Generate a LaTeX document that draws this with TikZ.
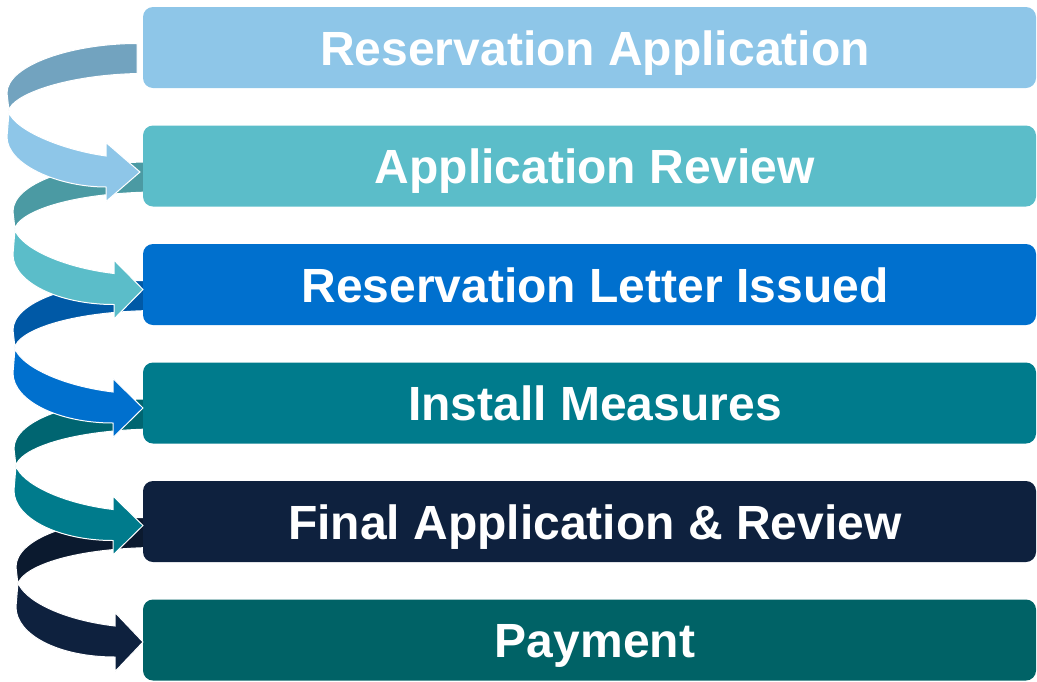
\documentclass[tikz,border=0pt]{standalone}
\usepackage{fontspec}
\setmainfont{Liberation Sans}
\definecolor{cA}{HTML}{8EC6E8}
\definecolor{cB}{HTML}{5BBDC9}
\definecolor{cC}{HTML}{0070CE}
\definecolor{cD}{HTML}{007B8C}
\definecolor{cE}{HTML}{0E213E}
\definecolor{cF}{HTML}{006266}
\definecolor{kA}{HTML}{72A3BF}
\definecolor{kB}{HTML}{4B9AA3}
\definecolor{kC}{HTML}{0059A6}
\definecolor{kD}{HTML}{006571}
\definecolor{kE}{HTML}{0B1A2F}
% back half of a ribbon arrow: #1 = y of upper band, #2 = left x, #3 = right x, #4 colour
\newcommand\ribbonback[4]{%
  \fill[#4, draw=white, line width=1]
    (#3, #1-8) .. controls (71, #1-8) and (#2, #1+14) .. (#2, #1+41.5)
    -- (#2+2, #1+59) .. controls (#2+4, #1+45) and (60, #1+24) .. (#3, #1+22) -- cycle;}
% front half with arrow head: #1 = y of upper band, #2 = left x, #3 colour, #4 head base x, #5 tip x
\newcommand\ribbonfront[5]{%
  \fill[#3, draw=white, line width=1]
    (#2+2, #1+59) .. controls (#2+8, #1+76) and (60, #1+96) .. (#4, #1+102.5)
    -- (#4, #1+89) -- (#5, #1+118.5) -- (#4, #1+148) -- (#4, #1+133.5)
    .. controls (58, #1+133.5) and (#2, #1+111) .. (#2, #1+83.5) -- cycle;}
\tikzset{
  stagebox/.style={rectangle, rounded corners=10pt, minimum width=893pt,
    minimum height=81pt, inner sep=0pt},
  stagetext/.style={anchor=base, text=white, inner sep=0pt,
    font=\fontsize{48}{52}\selectfont\bfseries}
}
\begin{document}
\begin{tikzpicture}[x=1pt,y=-1pt]
\useasboundingbox (0,0) rectangle (1037,681);
% back halves
\ribbonback{51.5}{7}{137}{kA}
\ribbonback{170}{13}{150}{kB}
\ribbonback{288.5}{13}{150}{kC}
\ribbonback{407}{14}{150}{kD}
\ribbonback{525.5}{16}{150}{kE}
% boxes
\node[stagebox, fill=cA] (b1) at (589.5,47.5) {};
\node[stagebox, fill=cB] (b2) at (589.5,166) {};
\node[stagebox, fill=cC] (b3) at (589.5,284.5) {};
\node[stagebox, fill=cD] (b4) at (589.5,403) {};
\node[stagebox, fill=cE] (b5) at (589.5,521.5) {};
\node[stagebox, fill=cF] (b6) at (589.5,640) {};
\node[stagetext] (t1) at (595,65) {Reservation Application};
\node[stagetext] (t2) at (595,183.5) {Application Review};
\node[stagetext] (t3) at (595,302) {Reservation Letter Issued};
\node[stagetext] (t4) at (595,420.5) {Install Measures};
\node[stagetext] (t5) at (595,539) {Final Application \& Review};
\node[stagetext] (t6) at (595,657.5) {Payment};
% front halves
\ribbonfront{53.5}{7}{cA}{106}{140}
\ribbonfront{171}{13}{cB}{114}{143}
\ribbonfront{289.5}{13}{cC}{113}{143}
\ribbonfront{407}{14}{cD}{113}{143}
\ribbonfront{523.5}{16}{cE}{115}{143}
\end{tikzpicture}
\end{document}
